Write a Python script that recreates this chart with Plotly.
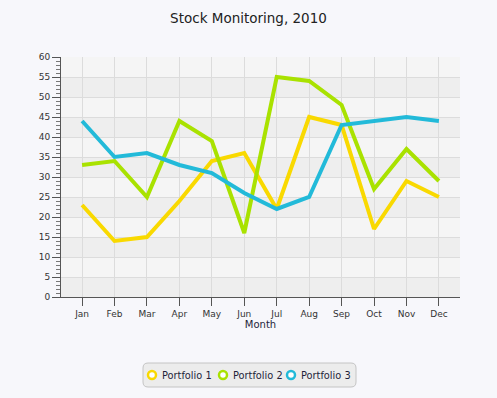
import plotly.graph_objects as go

months = ["Jan", "Feb", "Mar", "Apr", "May", "Jun", "Jul", "Aug", "Sep", "Oct", "Nov", "Dec"]
portfolio1 = [23, 14, 15, 24, 34, 36, 22, 45, 43, 17, 29, 25]
portfolio2 = [33, 34, 25, 44, 39, 16, 55, 54, 48, 27, 37, 29]
portfolio3 = [44, 35, 36, 33, 31, 26, 22, 25, 43, 44, 45, 44]
series_names = ["Portfolio 1", "Portfolio 2", "Portfolio 3"]
colors = ["#f9d900", "#a9e200", "#22bad9"]
band_edges = list(range(0, 61, 5))

W, H = 497, 398
ML, MR, MT, MB = 61, 37, 57, 101
PW, PH = W - ML - MR, H - MT - MB


def px(x):
    return (x - ML) / PW


def py(y):
    return (H - MB - y) / PH


fig = go.Figure()
for name, vals, c in zip(series_names, [portfolio1, portfolio2, portfolio3], colors):
    fig.add_trace(go.Scatter(x=months, y=vals, mode="lines", name=name,
                             line=dict(color=c, width=4), showlegend=False))

shapes = []
for i in range(len(band_edges) - 1):
    shapes.append(dict(type="rect", xref="paper", yref="y", x0=0, x1=1,
                       y0=band_edges[i], y1=band_edges[i + 1],
                       fillcolor="#eeeeee" if i % 2 == 0 else "#f5f5f5",
                       line=dict(width=0), layer="below"))

# legend box (rounded) drawn in paper space
lx0, lx1, ly0, ly1, r = 143, 356, 363, 387, 5
path = (f"M {px(lx0 + r)},{py(ly0)} L {px(lx1 - r)},{py(ly0)} "
        f"Q {px(lx1)},{py(ly0)} {px(lx1)},{py(ly0 + r)} L {px(lx1)},{py(ly1 - r)} "
        f"Q {px(lx1)},{py(ly1)} {px(lx1 - r)},{py(ly1)} L {px(lx0 + r)},{py(ly1)} "
        f"Q {px(lx0)},{py(ly1)} {px(lx0)},{py(ly1 - r)} L {px(lx0)},{py(ly0 + r)} "
        f"Q {px(lx0)},{py(ly0)} {px(lx0 + r)},{py(ly0)} Z")
shapes.append(dict(type="path", xref="paper", yref="paper", path=path,
                   fillcolor="#ececec", line=dict(color="#c4c4c4", width=1), layer="above"))

font = "DejaVu Sans, Verdana, sans-serif"
annotations = []
sym_x = [152, 223, 291]
txt_x = [160, 231, 299]
cy = 375
for name, c, sx, tx in zip(series_names, colors, sym_x, txt_x):
    shapes.append(dict(type="circle", xref="paper", yref="paper",
                       x0=px(sx - 4), x1=px(sx + 4), y0=py(cy + 4), y1=py(cy - 4),
                       fillcolor="#ffffff", line=dict(color=c, width=2.5), layer="above"))
    annotations.append(dict(text=name, xref="paper", yref="paper", x=px(tx), y=py(cy),
                            xanchor="left", yanchor="middle", showarrow=False,
                            font=dict(family=font, size=9.8, color="#1f1f3a")))

fig.update_layout(
    width=W, height=H,
    margin=dict(l=ML, r=MR, t=MT, b=MB),
    paper_bgcolor="#f7f7fb",
    plot_bgcolor="#f5f5f5",
    title=dict(text="Stock Monitoring, 2010", x=0.5, xanchor="center", y=1 - 18 / H, yanchor="middle",
               font=dict(family=font, size=13.5, color="#222222")),
    font=dict(family=font, size=9, color="#333333"),
    shapes=shapes,
    annotations=annotations,
    showlegend=False,
    xaxis=dict(type="category", categoryorder="array", categoryarray=months,
               range=[-0.65, 11.65], showgrid=True, gridcolor="#dcdcdc", gridwidth=1,
               showline=True, linecolor="#555555", linewidth=1,
               ticks="outside", ticklen=8, tickcolor="#555555", ticklabelstandoff=0,
               tickfont=dict(size=9, color="#333333"),
               title=dict(text="Month", font=dict(size=10, color="#1f1f3a"), standoff=3),
               zeroline=False, fixedrange=True, automargin=False),
    yaxis=dict(range=[0, 60], dtick=5, tick0=0, showgrid=True, gridcolor="#dcdcdc", gridwidth=1,
               showline=True, linecolor="#555555", linewidth=1,
               ticks="outside", ticklen=8, tickcolor="#555555",
               tickfont=dict(size=9, color="#333333"),
               minor=dict(dtick=1, ticks="outside", ticklen=4, tickcolor="#777777", showgrid=False),
               zeroline=False, fixedrange=True, automargin=False),
)

fig.write_html("out.html", config={"displayModeBar": False},
               post_script="document.body.style.margin='0px';document.body.style.overflow='hidden';")
